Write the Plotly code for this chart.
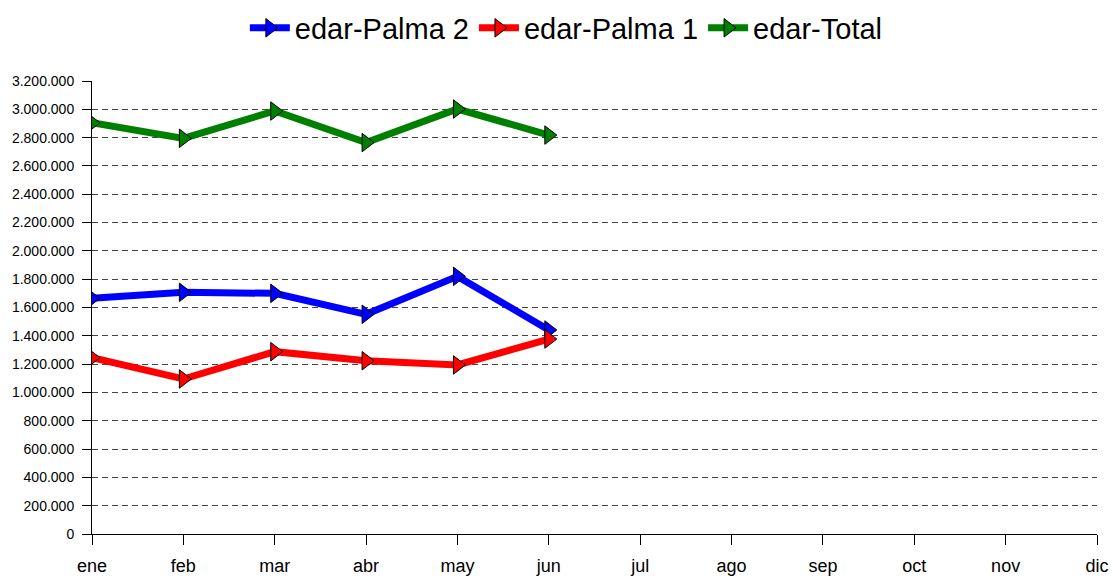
import plotly.graph_objects as go

months = ["ene", "feb", "mar", "abr", "may", "jun", "jul", "ago", "sep", "oct", "nov", "dic"]
palma2 = [1665000, 1707000, 1700000, 1552000, 1820000, 1441000]
palma1 = [1245000, 1095000, 1288000, 1224000, 1194000, 1377000]
total = [2905000, 2795000, 2988000, 2765000, 3002000, 2818000]

series = [
    ("edar-Palma 2", palma2, "#0000FF"),
    ("edar-Palma 1", palma1, "#FF0000"),
    ("edar-Total", total, "#008000"),
]

fig = go.Figure()
for name, vals, color in series:
    fig.add_trace(go.Scatter(
        x=months[:len(vals)], y=vals, name=name, mode="lines+markers",
        line=dict(color=color, width=7),
        marker=dict(symbol="triangle-right", size=16, color=color,
                    line=dict(color="black", width=1)),
    ))

fig.update_layout(
    width=1113, height=579,
    margin=dict(l=92, r=16, t=81, b=45, autoexpand=False),
    plot_bgcolor="white", paper_bgcolor="white",
    separators=",.",
    font=dict(family="Liberation Sans, Arial, sans-serif", color="black"),
    showlegend=True,
    legend=dict(orientation="h", x=0.472, xanchor="center", y=1.117, yanchor="middle",
                font=dict(size=29), itemwidth=40, traceorder="normal"),
)
fig.update_xaxes(
    type="category", categoryorder="array", categoryarray=months,
    range=[0, 11], showgrid=False, showline=True, linecolor="black", linewidth=1,
    ticks="outside", ticklen=10, tickcolor="black", tickfont=dict(size=18),
    ticklabelstandoff=5,
    zeroline=False, automargin=False,
)
fig.update_yaxes(
    range=[0, 3200000], dtick=200000, tickformat=",.0f",
    showgrid=True, gridcolor="#444", griddash="6px,4px", gridwidth=1,
    showline=True, linecolor="black", linewidth=1,
    ticks="outside", ticklen=9, tickcolor="black", tickfont=dict(size=14),
    ticklabelstandoff=5,
    zeroline=False, automargin=False,
)

fig.write_html(
    "out.html",
    config={"displayModeBar": False},
    post_script="document.body.style.margin='0';document.body.style.overflow='hidden';",
)
